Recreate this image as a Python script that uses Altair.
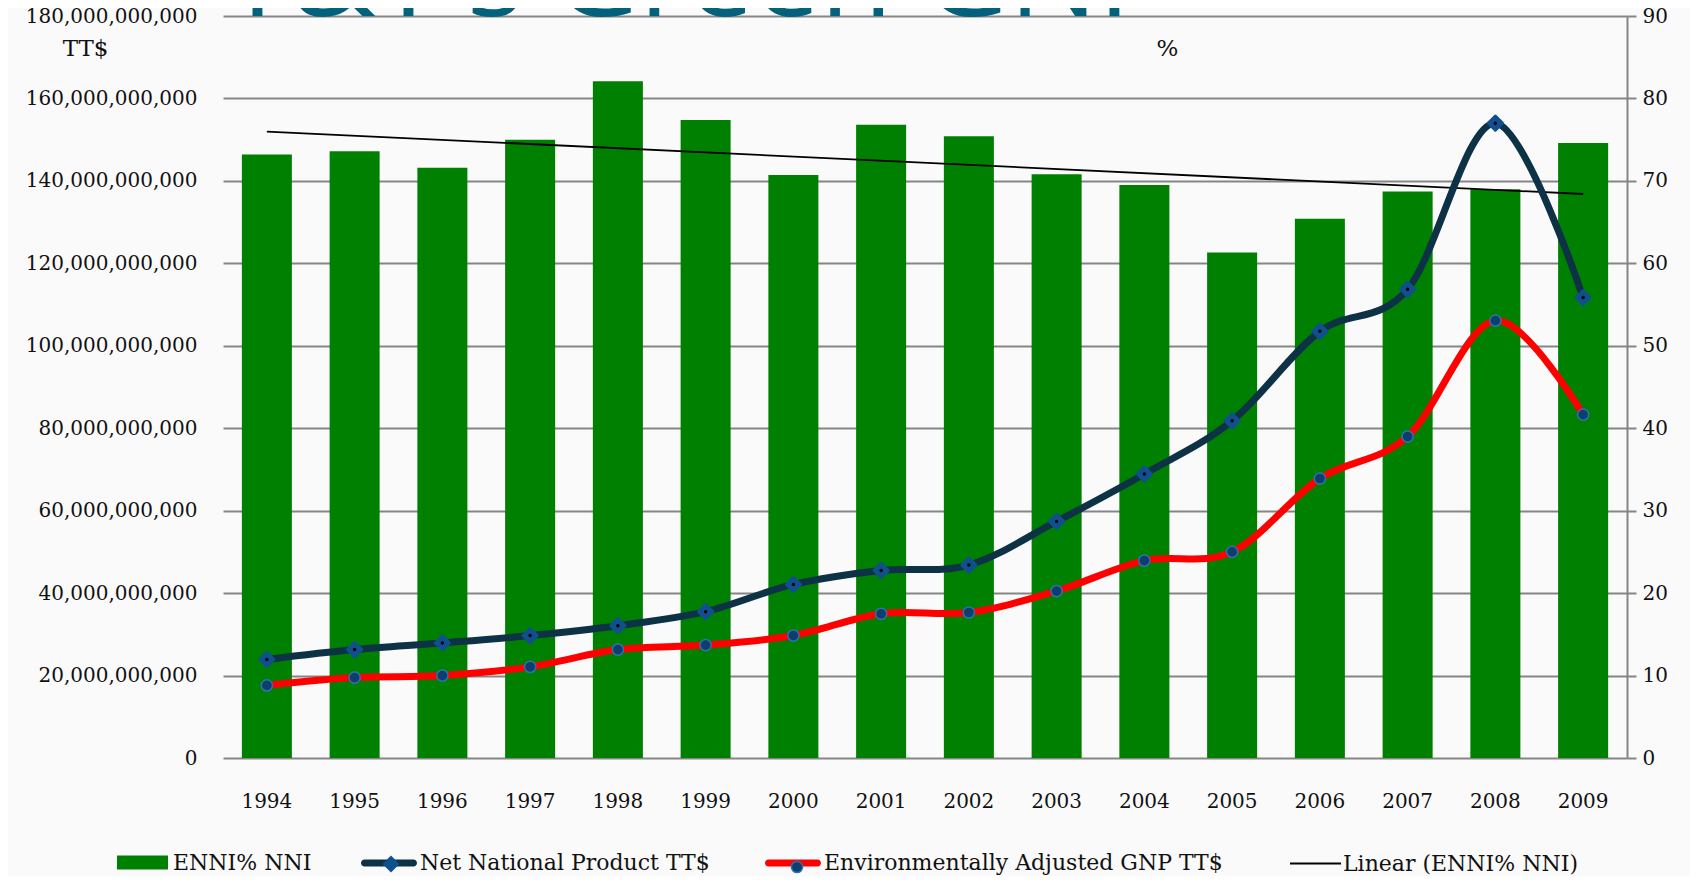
import altair as alt
import pandas as pd

# ---- data ----
years = [1994, 1995, 1996, 1997, 1998, 1999, 2000, 2001, 2002, 2003, 2004, 2005, 2006, 2007, 2008, 2009]
enni_pct = [73.2, 73.6, 71.6, 75.0, 82.1, 77.4, 70.7, 76.8, 75.4, 70.8, 69.5, 61.3, 65.4, 68.7, 69.0, 74.6]
nnp_bn = [23.9, 26.3, 27.9, 29.7, 32.1, 35.5, 42.1, 45.5, 46.8, 57.4, 68.9, 81.8, 103.5, 113.7, 154.0, 111.7]
eagnp_bn = [17.6, 19.5, 20.0, 22.1, 26.3, 27.4, 29.7, 35.0, 35.3, 40.5, 47.9, 50.0, 67.8, 78.0, 106.1, 83.3]

series_bar = "ENNI% NNI"
series_nnp = "Net National Product TT$"
series_ea = "Environmentally Adjusted GNP TT$"
series_lin = "Linear (ENNI% NNI)"
title_text = "T&T's Green GNI"

bars_df = pd.DataFrame({"year": years, "enni": enni_pct, "s": series_bar})
nnp_df = pd.DataFrame({"year": years, "value": [v * 1e9 for v in nnp_bn], "s": series_nnp})
ea_df = pd.DataFrame({"year": years, "value": [v * 1e9 for v in eagnp_bn], "s": series_ea})

FONT = "DejaVu Serif"
GRAY = "#858585"
GREEN = "#008000"
NAVY = "#0d3245"
BLUE = "#10508f"
RED = "#ff0000"
CIRC = "#0e3d6e"
CIRC_EDGE = "#2b74b0"

W, H = 1404, 742
PX0, PY0 = 223, 16  # plot origin on page
LEG_DY = -5  # legend vertical nudge

CAPSULE = "M-0.875,-0.125H0.875A0.125,0.125 0 0 1 0.875,0.125H-0.875A0.125,0.125 0 0 1 -0.875,-0.125Z"

x_enc = alt.X(
    "year:O",
    scale=alt.Scale(paddingInner=0.43, paddingOuter=0.215),
    axis=alt.Axis(title=None, labelAngle=0, domain=False, ticks=False, grid=False,
                  labelPadding=33, labelFont=FONT, labelFontSize=20, labelColor="#111111"),
)

left_y = alt.Y(
    "value:Q",
    scale=alt.Scale(domain=[0, 180e9], nice=False, zero=True),
    axis=alt.Axis(orient="left", values=[i * 20e9 for i in range(10)],
                  labelExpr="format(datum.value, ',')",
                  grid=True, gridColor=GRAY, gridWidth=2, domain=False, ticks=False,
                  labelPadding=26, labelFont=FONT, labelFontSize=20, labelColor="#111111",
                  labelLimit=400,
                  title="TT$", titleAngle=0, titleX=85 - PX0, titleY=48 - PY0,
                  titleAlign="center", titleBaseline="middle", titleFont=FONT,
                  titleFontSize=23, titleFontWeight="normal", titleColor="#111111"),
)

right_y = alt.Y(
    "enni:Q",
    scale=alt.Scale(domain=[0, 90], nice=False, zero=True),
    axis=alt.Axis(orient="right", values=list(range(0, 91, 10)), grid=False,
                  domain=True, domainColor=GRAY, domainWidth=2,
                  ticks=True, tickColor=GRAY, tickWidth=2, tickSize=9,
                  labelPadding=6, labelFont=FONT, labelFontSize=20, labelColor="#111111",
                  title="%", titleAngle=0, titleX=1167 - (PX0 + W), titleY=48 - PY0,
                  titleAlign="center", titleBaseline="middle", titleFont=FONT,
                  titleFontSize=23, titleFontWeight="normal", titleColor="#111111"),
)


def legend(x, y, **kw):
    base = dict(title=None, orient="none", legendX=x, legendY=y + LEG_DY, direction="horizontal",
                labelFont=FONT, labelFontSize=22, labelColor="#111111", padding=0,
                symbolOpacity=1, labelLimit=600)
    base.update(kw)
    return alt.Legend(**base)


bars = alt.Chart(bars_df).mark_bar(opacity=1).encode(
    x=x_enc,
    y=right_y,
    color=alt.Color("s:N", scale=alt.Scale(domain=[series_bar], range=[GREEN]),
                    legend=legend(117 - PX0, 842 - PY0, symbolType="M-1,-0.275H1V0.275H-1Z",
                                  symbolSize=2601, symbolStrokeWidth=0, labelOffset=5)),
)

trend = alt.Chart(bars_df).transform_regression("year", "enni", method="linear").transform_calculate(
    s=f"'{series_lin}'"
).mark_line(strokeWidth=1.8).encode(
    x=x_enc,
    y=right_y,
    color=alt.Color("s:N", scale=alt.Scale(domain=[series_lin], range=["#000000"]),
                    legend=legend(1289 - PX0, 842 - PY0, symbolType="stroke", symbolSize=2601,
                                  symbolStrokeWidth=2, labelOffset=1)),
)

right_group = alt.layer(bars, trend).resolve_scale(color="independent")

nnp_line = alt.Chart(nnp_df).mark_line(strokeWidth=7, interpolate="cardinal", strokeCap="round").encode(
    x=x_enc, y=left_y,
    color=alt.Color("s:N", scale=alt.Scale(domain=[series_nnp], range=[NAVY]),
                    legend=legend(361 - PX0, 840 - PY0, symbolType=CAPSULE, symbolSize=3136,
                                  symbolFillColor=NAVY, symbolStrokeWidth=0, labelOffset=3)),
)
nnp_pts = alt.Chart(nnp_df).mark_point(filled=True, opacity=1, shape="diamond", size=200,
                                        stroke=BLUE, strokeWidth=3, strokeJoin="round").encode(
    x=x_enc, y=left_y,
    color=alt.Color("s:N", scale=alt.Scale(domain=[series_nnp], range=[BLUE]),
                    legend=legend(380 - PX0, 858 - PY0, symbolType="diamond", symbolSize=289,
                                  symbolStrokeWidth=0, labelExpr="''")),
)
nnp_dots = alt.Chart(nnp_df).mark_point(filled=True, opacity=1, shape="circle", size=12, color="#000000").encode(
    x=x_enc, y=left_y,
)

ea_line = alt.Chart(ea_df).mark_line(strokeWidth=7, interpolate="cardinal", strokeCap="round").encode(
    x=x_enc, y=left_y,
    color=alt.Color("s:N", scale=alt.Scale(domain=[series_ea], range=[RED]),
                    legend=legend(765 - PX0, 840 - PY0, symbolType=CAPSULE, symbolSize=3136,
                                  symbolFillColor=RED, symbolStrokeWidth=0, labelOffset=3)),
)
ea_pts = alt.Chart(ea_df).mark_point(filled=True, opacity=1, shape="circle", size=125,
                                      stroke=CIRC_EDGE, strokeWidth=1.5).encode(
    x=x_enc, y=left_y,
    color=alt.Color("s:N", scale=alt.Scale(domain=[series_ea], range=[CIRC]),
                    legend=legend(786 - PX0, 861 - PY0, symbolType="circle", symbolSize=125,
                                  symbolStrokeColor=CIRC_EDGE, symbolStrokeWidth=1.5, labelExpr="''")),
)

left_group = alt.layer(nnp_line, ea_line, nnp_pts, nnp_dots, ea_pts).resolve_scale(color="independent")

title_layer = alt.Chart(pd.DataFrame({"t": [title_text]})).mark_text(
    font="Open Sans", fontSize=118, color="#04617b", align="left", baseline="alphabetic"
).encode(text="t:N", x=alt.value(2), y=alt.value(0))

chart = alt.layer(right_group, left_group, title_layer).resolve_scale(
    y="independent", color="independent"
).properties(
    width=W, height=H,
    autosize=alt.AutoSizeParams(type="none"),
    padding={"left": PX0 - 8, "top": PY0 - 8, "right": 1698 - 16 - (PX0 - 8) - W, "bottom": 884 - 16 - (PY0 - 8) - H},
    background="#fafafa",
).configure_view(stroke=None)

chart.save("out.html", embed_options={"renderer": "svg", "actions": False})
